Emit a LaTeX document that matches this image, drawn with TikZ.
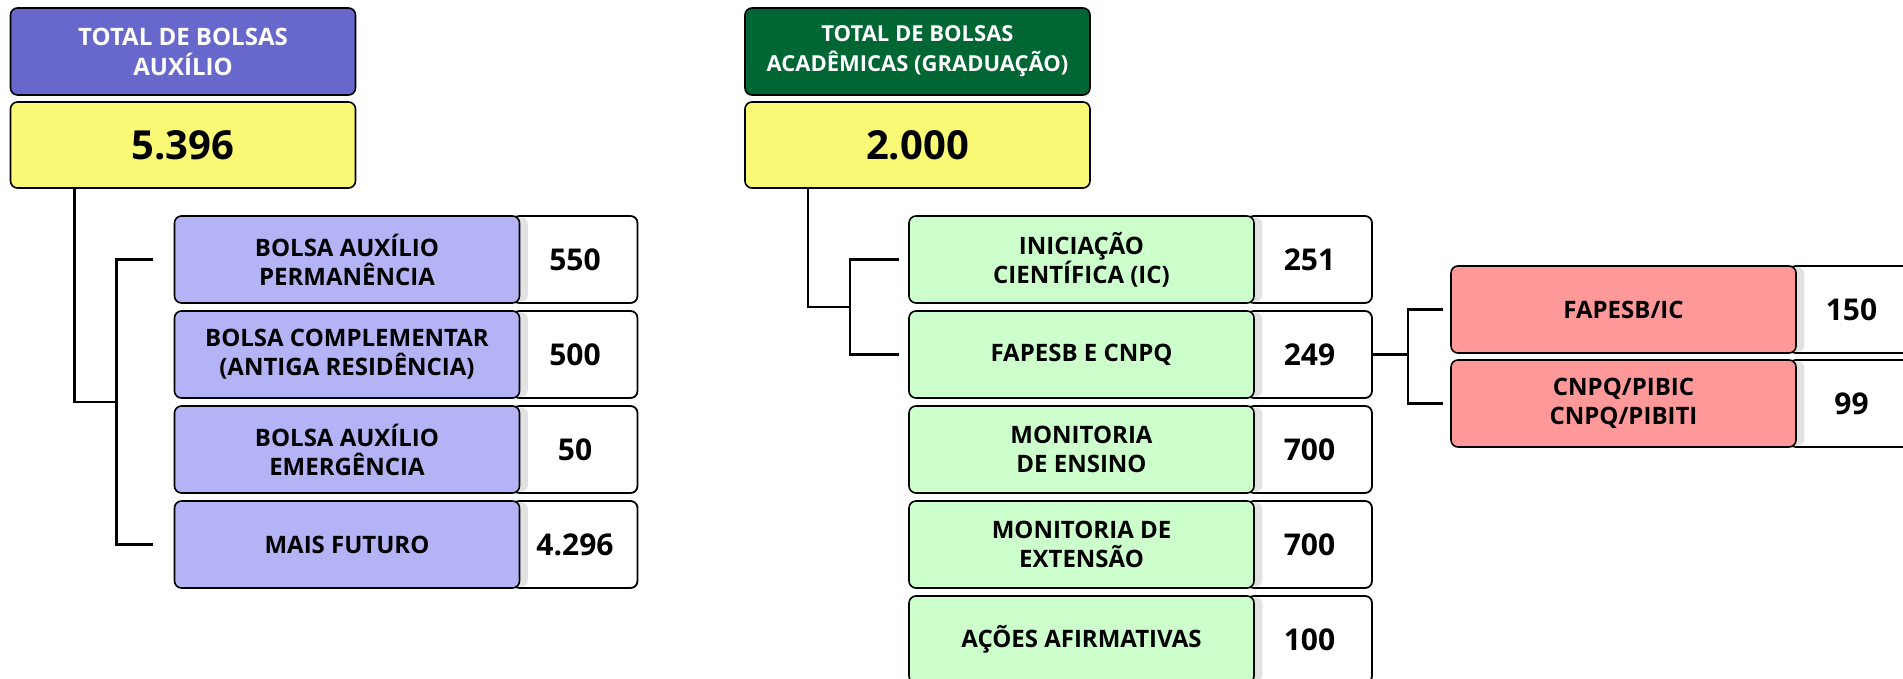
\documentclass[tikz,border=0pt]{standalone}
\usepackage{fontspec}
\setmainfont{Open Sans}
\usetikzlibrary{positioning,calc,backgrounds,shadows}
\definecolor{auxhead}{RGB}{104,104,204}
\definecolor{auxfill}{RGB}{179,179,245}
\definecolor{acadhead}{RGB}{0,102,51}
\definecolor{acadfill}{RGB}{204,255,204}
\definecolor{totalyellow}{RGB}{249,249,117}
\definecolor{icfill}{RGB}{255,153,153}
\definecolor{shadowgray}{RGB}{226,226,226}
\begin{document}
\begin{tikzpicture}[x=1pt,y=1pt,inner sep=0pt,outer sep=0pt,line width=1.6pt,
box/.style={draw,rounded corners=7pt,align=center,minimum width=345pt,minimum height=87pt,font=\fontsize{24}{29}\selectfont\bfseries},
headbox/.style={box,text=white,font=\fontsize{24}{30}\selectfont\bfseries},
totalbox/.style={box,fill=totalyellow,minimum height=86pt,font=\fontsize{40}{48}\selectfont\bfseries},
itembox/.style={box,general shadow={shadow scale=0.97,shadow xshift=14pt,shadow yshift=0pt,fill=shadowgray,draw=none}},
numbox/.style={draw,line width=1.8pt,rounded corners=7pt,fill=white,minimum width=125pt,minimum height=87pt,font=\fontsize{30}{36}\selectfont\bfseries},
link/.style={line width=2.2pt}]
\useasboundingbox (0,0) rectangle (1903,-678);
% bolsas auxilio
\node[headbox,fill=auxhead] (h1) at (183,-51.5) {TOTAL DE BOLSAS\\AUXÍLIO};
\node[totalbox,below=7pt of h1] (t1) {5.396};
\node[itembox,fill=auxfill] (a1) at (347,-259.5) {BOLSA AUXÍLIO\\PERMANÊNCIA};
\node[itembox,fill=auxfill,below=8pt of a1] (a2) {BOLSA COMPLEMENTAR\\(ANTIGA RESIDÊNCIA)};
\node[itembox,fill=auxfill,below=8pt of a2] (a3) {BOLSA AUXÍLIO\\EMERGÊNCIA};
\node[itembox,fill=auxfill,below=8pt of a3] (a4) {MAIS FUTURO};
% bolsas academicas
\node[headbox,fill=acadhead,font=\fontsize{22}{30}\selectfont\bfseries] (h2) at (917.5,-51.5) {TOTAL DE BOLSAS\\ACADÊMICAS (GRADUAÇÃO)};
\node[totalbox,below=7pt of h2] (t2) {2.000};
\node[itembox,fill=acadfill] (g1) at (1081.5,-259.5) {INICIAÇÃO\\CIENTÍFICA (IC)};
\node[itembox,fill=acadfill,below=8pt of g1] (g2) {FAPESB E CNPQ};
\node[itembox,fill=acadfill,below=8pt of g2] (g3) {MONITORIA\\DE ENSINO};
\node[itembox,fill=acadfill,below=8pt of g3] (g4) {MONITORIA DE\\EXTENSÃO};
\node[itembox,fill=acadfill,below=8pt of g4] (g5) {AÇÕES AFIRMATIVAS};
% fapesb e cnpq
\node[itembox,fill=icfill] (f1) at (1623.5,-309.5) {FAPESB/IC};
\node[itembox,fill=icfill,below=7pt of f1] (f2) {CNPQ/PIBIC\\CNPQ/PIBITI};
\begin{scope}[on background layer]
\node[numbox,right=-7pt of a1] (n1) {550};
\node[numbox,right=-7pt of a2] (n2) {500};
\node[numbox,right=-7pt of a3] (n3) {50};
\node[numbox,right=-7pt of a4] (n4) {4.296};
\node[numbox,right=-7pt of g1] (m1) {251};
\node[numbox,right=-7pt of g2] (m2) {249};
\node[numbox,right=-7pt of g3] (m3) {700};
\node[numbox,right=-7pt of g4] (m4) {700};
\node[numbox,right=-7pt of g5] (m5) {100};
\node[numbox,right=-7pt of f1] (p1) {150};
\node[numbox,right=-7pt of f2] (p2) {99};
\end{scope}
% ligacoes
\draw[link] ([xshift=-22pt]a1.west) -| ([xshift=-58pt]a1.west) |- ([xshift=-22pt]a4.west);
\draw[link] ([xshift=64pt]t1.south west) |- ($([xshift=-58pt]a1.west)!0.5!([xshift=-58pt]a4.west)$);
\draw[link] ([xshift=-10pt]g1.west) -| ([xshift=-59pt]g1.west) |- ([xshift=-10pt]g2.west);
\draw[link] ([xshift=63pt]t2.south west) |- ($([xshift=-59pt]g1.west)!0.5!([xshift=-59pt]g2.west)$);
\draw[link] ([xshift=-8pt]f1.west) -| ([xshift=-43pt]f1.west) |- ([xshift=-8pt]f2.west);
\coordinate (fb) at ($([xshift=-43pt]f1.west)!0.5!([xshift=-43pt]f2.west)$);
\draw[link] (m2.east) -- (m2.east -| fb);
\end{tikzpicture}
\end{document}
